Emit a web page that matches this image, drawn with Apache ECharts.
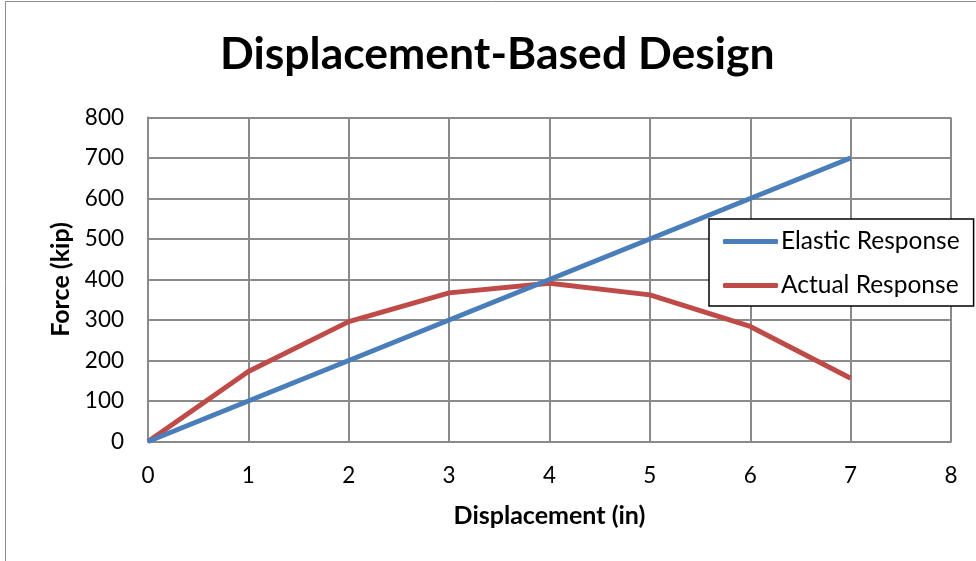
<!DOCTYPE html>
<html>
<head>
<meta charset="utf-8">
<script src="https://cdn.jsdelivr.net/npm/echarts@6/dist/echarts.min.js"></script>
<style>
  html, body { margin: 0; padding: 0; background: #fff; }
  #chart { width: 976px; height: 561px; }
</style>
</head>
<body>
<div id="chart"></div>
<script>
// Displacement values (in) and force values (kip)
const displacement = [0, 1, 2, 3, 4, 5, 6, 7];
const elasticForce = [0, 100, 200, 300, 400, 500, 600, 700];
const actualForce  = [0, 173, 296, 367, 391, 362, 284, 156];

const FONT = 'Lato, "Open Sans", sans-serif';

const pairs = (xs, ys) => xs.map((x, i) => [x, ys[i]]);

const chart = echarts.init(document.getElementById('chart'));
chart.setOption({
  backgroundColor: '#ffffff',
  animation: false,
  title: {
    text: 'Displacement-Based Design',
    left: 215,
    top: 27,
    textStyle: { fontFamily: FONT, fontWeight: 'bold', fontSize: 44.5, color: '#000' }
  },
  graphic: [{
    type: 'rect',
    shape: { x: 5.5, y: 1.5, width: 1200, height: 1200 },
    style: { fill: 'none', stroke: '#8c8c8c', lineWidth: 1 },
    silent: true
  }],
  grid: { left: 148, right: 25, top: 117.5, bottom: 119.5 },
  legend: {
    orient: 'vertical',
    left: 709,
    top: 219,
    padding: [10, 14, 8, 14],
    itemGap: 19,
    itemWidth: 55,
    itemHeight: 5,
    backgroundColor: '#fff',
    borderColor: '#000',
    borderWidth: 1.5,
    borderRadius: 0,
    icon: 'roundRect',
    textStyle: { fontFamily: FONT, fontSize: 24.5, color: '#000', lineHeight: 25, padding: [0, 0, 0, -2] },
    data: ['Elastic Response', 'Actual Response']
  },
  xAxis: {
    type: 'value',
    min: 0, max: 8, interval: 1,
    name: 'Displacement (in)',
    nameLocation: 'middle',
    nameGap: 62,
    nameTextStyle: { fontFamily: FONT, fontWeight: 'bold', fontSize: 25, color: '#000' },
    axisLine: { show: true, lineStyle: { color: '#8a8a8a', width: 2 } },
    axisTick: { show: false },
    axisLabel: { margin: 23, fontFamily: FONT, fontSize: 22.5, color: '#000' },
    splitLine: { show: true, lineStyle: { color: '#8a8a8a', width: 2 } }
  },
  yAxis: {
    type: 'value',
    min: 0, max: 800, interval: 100,
    name: 'Force (kip)',
    nameLocation: 'middle',
    nameGap: 75,
    nameTextStyle: { fontFamily: FONT, fontWeight: 'bold', fontSize: 25, color: '#000' },
    axisLine: { show: true, lineStyle: { color: '#8a8a8a', width: 2 } },
    axisTick: { show: false },
    axisLabel: { margin: 24, fontFamily: FONT, fontSize: 22.5, color: '#000' },
    splitLine: { show: true, lineStyle: { color: '#8a8a8a', width: 2 } }
  },
  series: [
    {
      name: 'Elastic Response',
      type: 'line',
      data: pairs(displacement, elasticForce),
      showSymbol: false,
      symbol: 'none',
      itemStyle: { color: '#4a7ebb' },
      lineStyle: { color: '#4a7ebb', width: 5 },
      z: 3
    },
    {
      name: 'Actual Response',
      type: 'line',
      data: pairs(displacement, actualForce),
      showSymbol: false,
      symbol: 'none',
      itemStyle: { color: '#be4b48' },
      lineStyle: { color: '#be4b48', width: 5 },
      z: 2
    }
  ]
});
</script>
</body>
</html>
